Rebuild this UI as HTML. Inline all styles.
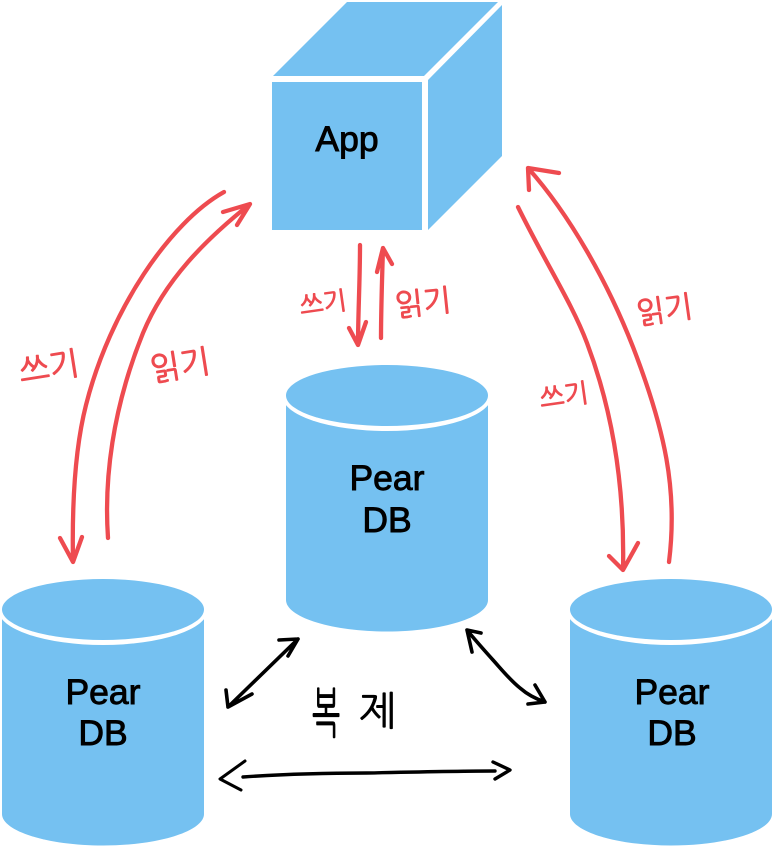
<!DOCTYPE html>
<html lang="ko"><head><meta charset="utf-8"><style>
html,body{margin:0;padding:0;background:#fff}
svg{display:block}
.n{font-family:"Liberation Sans",sans-serif;font-size:35.500px;fill:#000;stroke:#000;stroke-width:.9;text-anchor:middle}
.k{font-family:"Liberation Sans","NanumGothic","Noto Sans CJK KR",sans-serif;font-size:32px;fill:#EE4B50;stroke:#EE4B50;stroke-width:.9}
.r{fill:none;stroke:#EE4B50;stroke-width:4.300;stroke-linecap:round;stroke-linejoin:round}
.b{fill:none;stroke:#000;stroke-width:3.6;stroke-linecap:round;stroke-linejoin:round}
.j{font-family:"Liberation Sans","NanumGothic","Noto Sans CJK KR",sans-serif;font-size:40px;fill:#000;stroke:#000;stroke-width:.6}
</style></head><body>
<svg width="774" height="848" viewBox="0 0 774 848" xmlns="http://www.w3.org/2000/svg">
<defs>
<g id="cyl">
<path d="M286 395V600C286 617 331 631.500 387 631.500S488 617 488 600V395Z" fill="#75C1F1"/>
<ellipse cx="387" cy="395.500" rx="105" ry="35.500" fill="#fff"/>
<rect x="270" y="350" width="16" height="100" fill="#fff"/><rect x="488" y="350" width="16" height="100" fill="#fff"/>
<ellipse cx="387" cy="395.500" rx="101" ry="30.500" fill="#75C1F1"/>
</g>
</defs>
<polygon points="347,2 498,2 424,76 273,76" fill="#75C1F1"/>
<rect x="272" y="82" width="150" height="148" fill="#75C1F1"/>
<polygon points="428,80 502,5 502,156 428,230" fill="#75C1F1"/>
<use href="#cyl"/>
<use href="#cyl" x="-284" y="214"/>
<use href="#cyl" x="284" y="214"/>
<text class="n" x="347" y="151">App</text>
<text class="n" x="387" y="490">Pear</text><text class="n" x="387" y="532">DB</text>
<text class="n" x="103" y="704">Pear</text><text class="n" x="103" y="745">DB</text>
<text class="n" x="672" y="704">Pear</text><text class="n" x="672" y="745">DB</text>

<path class="r" d="M224 192C170 222 110 310 86 405C74 452 72 510 73 562M60 538L73 562L82 537"/>
<path class="r" d="M108 538C104 480 112 410 143 333C165 280 205 240 250 204M223 212L250 204L237 225"/>
<path class="r" d="M360 245C360 280 358 315 358 345M349 328L358 345L366 322"/>
<path class="r" d="M381 338C381 310 382 280 383 248M377 272L383 248L392 264"/>
<path class="r" d="M669 562C678 490 665 430 633 347C608 283 570 215 528 168M529 190L528 168L559 173"/>
<path class="r" d="M518 207C545 262 572 303 587 343C610 404 625 480 623 570M609 556L623 570L638 543"/>

<text class="k" transform="translate(21 383) rotate(-9)">쓰기</text>
<text class="k" transform="translate(152 381) rotate(-9)">읽기</text>
<text class="k" style="font-size:25px" transform="translate(301 315) rotate(-8)">쓰기</text>
<text class="k" style="font-size:30px" transform="translate(396 316) rotate(-6)">읽기</text>
<text class="k" style="font-size:30px" transform="translate(638 324) rotate(-8)">읽기</text>
<text class="k" style="font-size:26px" transform="translate(541 408) rotate(-8)">쓰기</text>

<path class="b" d="M228 707L298 639M226 690L228 707L252 694M279 640L298 639L288 656"/>
<path class="b" d="M467 630C475 640 484 650 493 660C502 670 510 680 520 688C528 695 536 699 545 702M472 652L467 630L481 633M535 685L545 702L528 704"/>
<path class="b" style="stroke-width:3" d="M245 761L220 779L241 790"/>
<path class="b" d="M243 777C285 774 325 773 367 773C415 772 460 771 495 771M493 762L510 770L495 779" style="stroke-width:3.400"/>
<text class="j" transform="translate(312 732) scale(.75 1.35)">복</text>
<text class="j" x="359" y="725">제</text>
</svg>
</body></html>
